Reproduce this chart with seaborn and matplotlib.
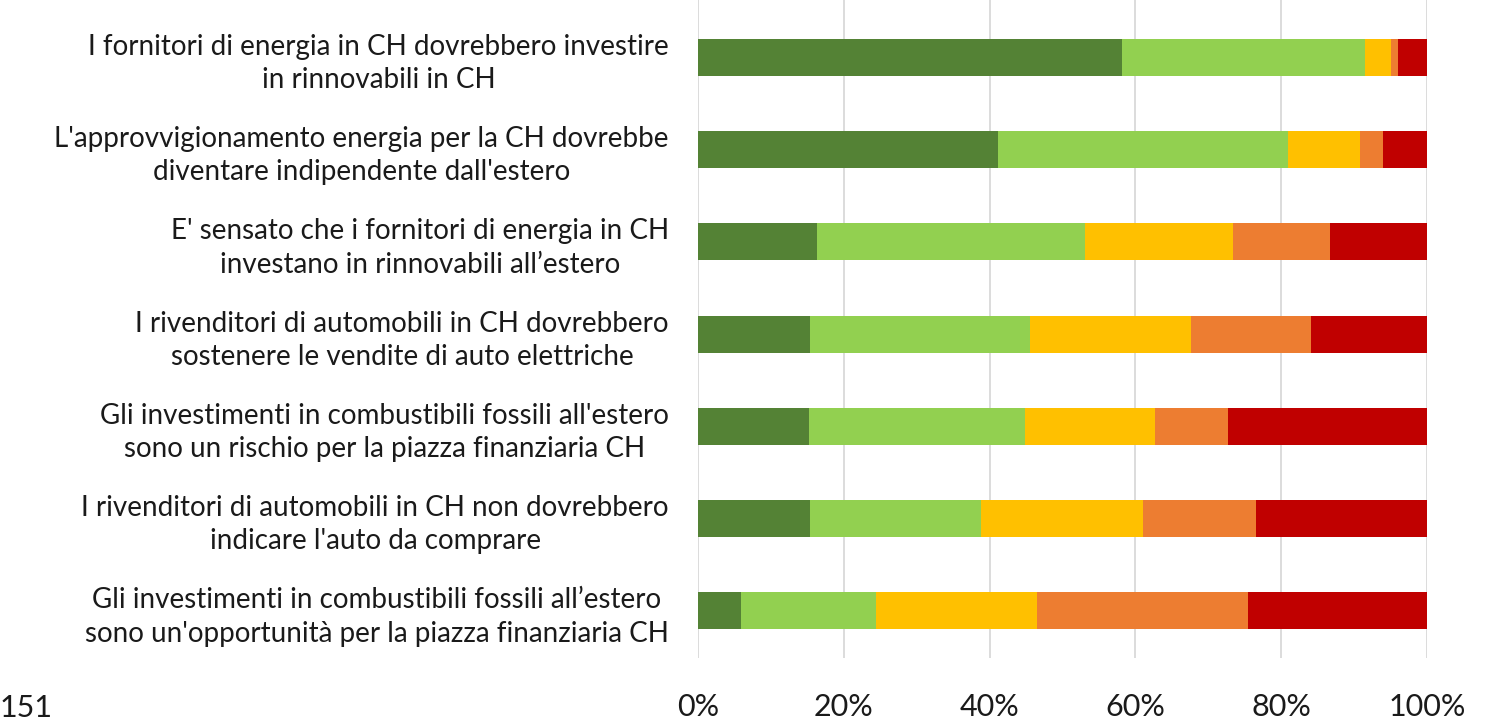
import matplotlib

matplotlib.use("Agg")

import matplotlib.pyplot as plt
import numpy as np
import pandas as pd
import seaborn as sns

statements = [
    "I fornitori di energia in CH dovrebbero investire\nin rinnovabili in CH",
    "L'approvvigionamento energia per la CH dovrebbe\ndiventare indipendente dall'estero",
    "E' sensato che i fornitori di energia in CH\ninvestano in rinnovabili all\u2019estero",
    "I rivenditori di automobili in CH dovrebbero\nsostenere le vendite di auto elettriche",
    "Gli investimenti in combustibili fossili all'estero\nsono un rischio per la piazza finanziaria CH",
    "I rivenditori di automobili in CH non dovrebbero\nindicare l'auto da comprare",
    "Gli investimenti in combustibili fossili all\u2019estero\nsono un'opportunit\u00e0 per la piazza finanziaria CH",
]

# share of answers per statement (%), from "fully agree" to "fully disagree"
fully_agree = [58.2, 41.1, 16.3, 15.4, 15.2, 15.4, 5.9]
agree = [33.3, 39.9, 36.8, 30.1, 29.6, 23.4, 18.5]
neutral = [3.5, 9.8, 20.3, 22.1, 17.9, 22.3, 22.1]
disagree = [1.0, 3.2, 13.3, 16.5, 10.0, 15.4, 29.0]
fully_disagree = [4.0, 6.0, 13.3, 15.9, 27.3, 23.5, 24.5]

colors = ["#548235", "#92D050", "#FFC000", "#ED7D31", "#C00000"]

sns.set_theme(style="white")
plt.rcParams["font.family"] = ["Lato", "DejaVu Sans"]

df = pd.DataFrame(
    {
        "statement": statements,
        "s1": fully_agree,
        "s2": agree,
        "s3": neutral,
        "s4": disagree,
        "s5": fully_disagree,
    }
)
series = ["s1", "s2", "s3", "s4", "s5"]
cum = df[series].cumsum(axis=1)

fig = plt.figure(figsize=(14.85, 7.2), dpi=100)
ax = fig.add_axes([698 / 1485, 1 - 658 / 720, 729 / 1485, 658 / 720])

for x in range(0, 101, 20):
    ax.axvline(x, color="#d9d9d9", linewidth=1.3, zorder=0)

# draw cumulative layers from the right so each shorter bar sits on top
for col, color in zip(series[::-1], colors[::-1]):
    sns.barplot(
        x=cum[col],
        y=df["statement"],
        orient="h",
        color=color,
        width=0.4,
        saturation=1,
        edgecolor="none",
        ax=ax,
        zorder=2,
    )

ax.set_xlim(0, 100)
ax.set_ylim(6.51, -0.62)
ax.set_xticks(np.arange(0, 101, 20))
ax.set_xticklabels([f"{v}%" for v in range(0, 101, 20)])
ax.set_xlabel("")
ax.set_ylabel("")
ax.tick_params(axis="x", length=0, pad=25, labelsize=22, labelcolor="#1a1a1a")
ax.tick_params(axis="y", length=0, pad=21, labelsize=20, labelcolor="#1a1a1a")
for lbl in ax.get_yticklabels():
    lbl.set_multialignment("center")
    lbl.set_linespacing(1.35)
for spine in ax.spines.values():
    spine.set_visible(False)

fig.text(0.0, 1 - 708 / 720, "151", fontsize=22, color="#1a1a1a", ha="left", va="center")

fig.savefig("out.png", dpi=100)
